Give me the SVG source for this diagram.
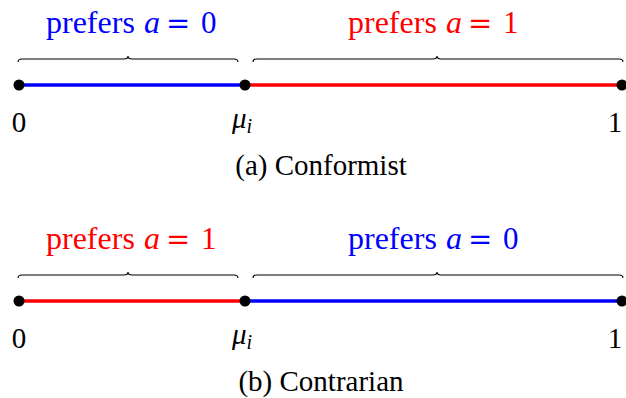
<svg xmlns="http://www.w3.org/2000/svg" width="626" height="398" viewBox="0 0 626 398">
<style>
text{font-family:"Liberation Serif","DejaVu Serif",serif;fill:#000}
.lab{font-size:32px}
.tick{font-size:29px;text-anchor:middle}
.cap{font-size:29px;text-anchor:middle}
.m{font-style:italic}
.eq{font-family:"DejaVu Serif",serif;font-size:29px}
.num{font-size:31px}
.blue{fill:#0000ff}
.red{fill:#ff0000}
.brace{fill:none;stroke:#000;stroke-width:1.1}
.seg{stroke-width:3.3;fill:none}
.dot{fill:#000}
</style>
<g id="conformist">
  <g id="a-braces">
    <path class="brace" d="M18,62 Q18,59 22,59 L124,59 Q128,59 128,56 Q128,59 132,59 L234,59 Q238,59 238,62"/>
    <path class="brace" d="M253,62 Q253,59 257,59 L433,59 Q437,59 437,56 Q437,59 441,59 L619,59 Q623,59 623,62"/>
  </g>
  <g id="a-labels">
    <text class="lab blue" x="46" y="33">prefers<tspan class="m" x="144">a</tspan><tspan class="eq" x="166">=</tspan><tspan class="num" x="201">0</tspan></text>
    <text class="lab red" x="348" y="33">prefers<tspan class="m" x="446">a</tspan><tspan class="eq" x="468">=</tspan><tspan class="num" x="503">1</tspan></text>
  </g>
  <g id="a-connectors">
    <line class="seg" x1="19" y1="85" x2="245" y2="85" stroke="#0000ff"/>
    <line class="seg" x1="245" y1="85" x2="622" y2="85" stroke="#ff0000"/>
  </g>
  <g id="a-node-0"><circle class="dot" cx="19" cy="85" r="5.5"/><text class="tick" x="19" y="132">0</text></g>
  <g id="a-node-mu"><circle class="dot" cx="245" cy="85" r="5.5"/><text class="tick" x="242" y="128"><tspan class="m">μ</tspan><tspan class="m" font-size="20" dy="5">i</tspan></text></g>
  <g id="a-node-1"><circle class="dot" cx="622" cy="85" r="5.5"/><text class="tick" x="615" y="132">1</text></g>
  <text class="cap" x="321" y="175">(a) Conformist</text>
</g>
<g id="contrarian">
  <g id="b-braces">
    <path class="brace" d="M18,278 Q18,275 22,275 L124,275 Q128,275 128,272 Q128,275 132,275 L234,275 Q238,275 238,278"/>
    <path class="brace" d="M253,278 Q253,275 257,275 L433,275 Q437,275 437,272 Q437,275 441,275 L619,275 Q623,275 623,278"/>
  </g>
  <g id="b-labels">
    <text class="lab red" x="46" y="249">prefers<tspan class="m" x="144">a</tspan><tspan class="eq" x="166">=</tspan><tspan class="num" x="201">1</tspan></text>
    <text class="lab blue" x="348" y="249">prefers<tspan class="m" x="446">a</tspan><tspan class="eq" x="468">=</tspan><tspan class="num" x="503">0</tspan></text>
  </g>
  <g id="b-connectors">
    <line class="seg" x1="19" y1="301" x2="245" y2="301" stroke="#ff0000"/>
    <line class="seg" x1="245" y1="301" x2="622" y2="301" stroke="#0000ff"/>
  </g>
  <g id="b-node-0"><circle class="dot" cx="19" cy="301" r="5.5"/><text class="tick" x="19" y="348">0</text></g>
  <g id="b-node-mu"><circle class="dot" cx="245" cy="301" r="5.5"/><text class="tick" x="242" y="344"><tspan class="m">μ</tspan><tspan class="m" font-size="20" dy="5">i</tspan></text></g>
  <g id="b-node-1"><circle class="dot" cx="622" cy="301" r="5.5"/><text class="tick" x="615" y="348">1</text></g>
  <text class="cap" x="321" y="391">(b) Contrarian</text>
</g>
</svg>
